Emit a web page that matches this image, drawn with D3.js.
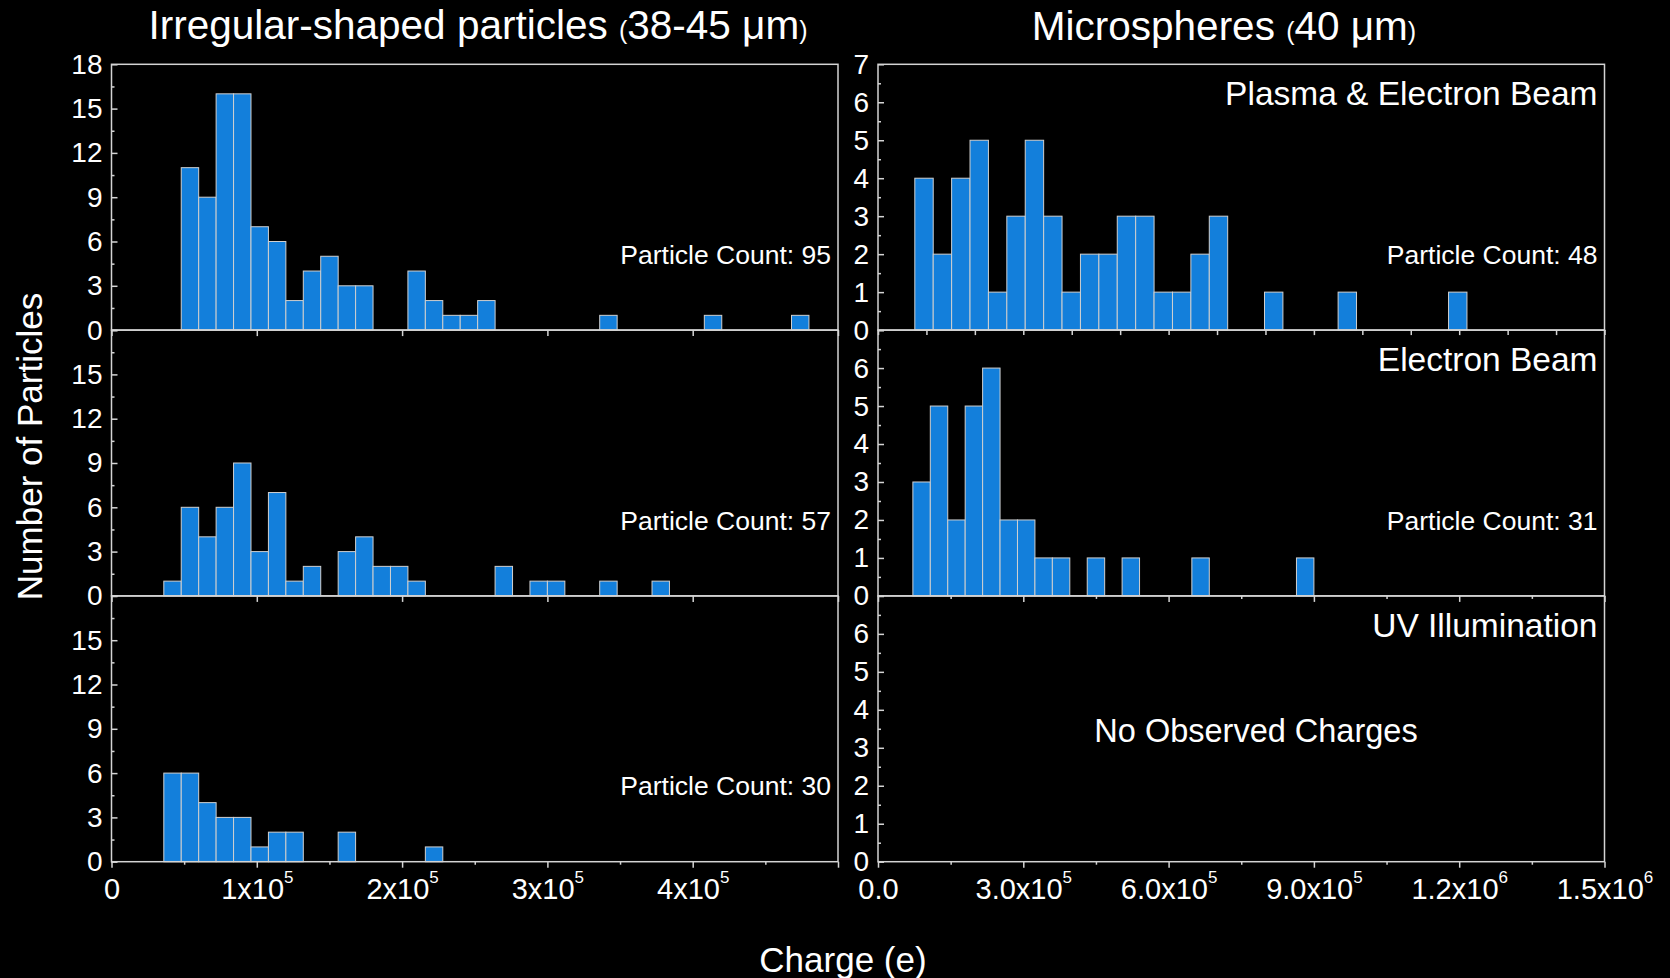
<!DOCTYPE html>
<html>
<head>
<meta charset="utf-8">
<script src="https://cdn.jsdelivr.net/npm/d3@7"></script>
<style>
body { margin: 0; background: #000; }
svg { display: block; font-family: "Liberation Sans", Arial, sans-serif; }
text { fill: #fff; }
</style>
</head>
<body>
<script>
// counts per bin, bin i covers [i*w, (i+1)*w) in units of e
var irregularBinWidth = 12000,
    sphereBinWidths = [38000, 36000, 36000];

var irregularPlasmaEBeam = [0,0,0,0, 11,9,16,16,7,6,2,4,5,3,3, 0,0, 4,2,1,1,2, 0,0,0,0,0,0, 1, 0,0,0,0,0, 1, 0,0,0,0, 1],
    irregularEBeam = [0,0,0, 1,6,4,6,9,3,7,1,2, 0, 3,4,2,2,1, 0,0,0,0, 2, 0, 1,1, 0,0, 1, 0,0, 1],
    irregularUV = [0,0,0, 6,6,4,3,3,1,2,2, 0,0, 2, 0,0,0,0, 1];

var spherePlasmaEBeam = [0,0, 4,2,4,5,1,3,5,3,1,2,2,3,3,1,1,2,3, 0,0, 1, 0,0,0, 1, 0,0,0,0,0, 1],
    sphereEBeam = [0,0, 3,5,2,5,6,2,2,1,1, 0, 1, 0, 1, 0,0,0, 1, 0,0,0,0,0, 1],
    sphereUV = [];

var rowLabels = ["Plasma & Electron Beam", "Electron Beam", "UV Illumination"],
    irregularTotals = [95, 57, 30],
    sphereTotals = [48, 31, null];

var irregularXTicks = [0, 1e5, 2e5, 3e5, 4e5, 5e5],
    irregularXMinor = [5e4, 1.5e5, 2.5e5, 3.5e5, 4.5e5],
    sphereXTicks = [0, 3e5, 6e5, 9e5, 1.2e6, 1.5e6],
    sphereXMinor = [1.5e5, 4.5e5, 7.5e5, 1.05e6, 1.35e6],
    sphereXTopTicks = d3.range(0, 1.5e6 + 1, 1e5);

var W = 1670, H = 978,
    top0 = 64.3, rowH = 265.8,
    lineColor = "#d4d4d4";

var svg = d3.select("body").append("svg")
    .attr("width", W)
    .attr("height", H);
svg.append("rect").attr("width", W).attr("height", H).attr("fill", "#000");

function sci(v, digits) {
    if (v === 0) return [digits ? "0.0" : "0"];
    var e = Math.floor(Math.log10(v) + 1e-9);
    return [(v / Math.pow(10, e)).toFixed(digits) + "x10", String(e)];
}

var columns = [
    {
        x: d3.scaleLinear().domain([0, 5e5]).range([111.5, 838]),
        yMax: 18, yStep: 3,
        rows: [irregularPlasmaEBeam, irregularEBeam, irregularUV],
        widths: [irregularBinWidth, irregularBinWidth, irregularBinWidth],
        totals: irregularTotals,
        ticks: [irregularXTicks, irregularXTicks, irregularXTicks],
        minor: [[], [], irregularXMinor],
        labels: irregularXTicks.slice(0, 5),
        digits: 0
    },
    {
        x: d3.scaleLinear().domain([0, 1.5e6]).range([878, 1604.5]),
        yMax: 7, yStep: 1,
        rows: [spherePlasmaEBeam, sphereEBeam, sphereUV],
        widths: sphereBinWidths,
        totals: sphereTotals,
        ticks: [sphereXTopTicks, sphereXTicks, sphereXTicks],
        minor: [[], sphereXMinor, sphereXMinor],
        labels: sphereXTicks,
        digits: 1,
        rowLabels: rowLabels
    }
];

columns.forEach(function(c) {
    var x = c.x, x0 = x.range()[0], x1 = x.range()[1];

    c.rows.forEach(function(counts, r) {
        var yTop = top0 + r * rowH,
            y = d3.scaleLinear().domain([0, c.yMax]).range([yTop + rowH, yTop]),
            w = c.widths[r],
            g = svg.append("g").attr("class", "panel");

        var bins = counts.map((n, i) => ({x0: i * w, x1: (i + 1) * w, n: n})).filter(d => d.n > 0);

        g.selectAll(".bar")
            .data(bins)
          .enter().append("rect")
            .attr("class", "bar")
            .attr("x", d => x(d.x0))
            .attr("width", d => x(d.x1) - x(d.x0))
            .attr("y", d => y(d.n))
            .attr("height", d => y(0) - y(d.n))
            .attr("fill", "#137fdb")
            .attr("stroke", "#d0d0d0")
            .attr("stroke-width", 1);

        // y axis, the top label is dropped below the first row (it sits on the 0 above)
        var yMajor = d3.range(0, c.yMax + 0.001, c.yStep),
            yLast = r === 0 ? c.yMax : c.yMax - c.yStep;
        var ya = g.append("g")
            .attr("transform", "translate(" + x0 + ",0)")
            .call(d3.axisLeft(y).tickValues(yMajor).tickSize(-6).tickPadding(9)
                .tickFormat(v => v <= yLast ? v : ""));
        g.append("g")
            .attr("transform", "translate(" + x0 + ",0)")
            .call(d3.axisLeft(y).tickValues(d3.range(c.yStep / 2, c.yMax, c.yStep)).tickSize(-3).tickFormat(""));

        // x ticks point down out of each panel
        var xa = g.append("g")
            .attr("transform", "translate(0," + y(0) + ")")
            .call(d3.axisBottom(x).tickValues(c.ticks[r]).tickSize(r === 0 && c.digits ? 5 : 6).tickFormat(""));
        g.append("g")
            .attr("transform", "translate(0," + y(0) + ")")
            .call(d3.axisBottom(x).tickValues(c.minor[r]).tickSize(3).tickFormat(""));

        g.selectAll(".domain").remove();
        g.selectAll(".tick line").attr("stroke", lineColor).attr("stroke-width", 1.5);
        ya.selectAll("text").attr("font-size", 28).attr("fill", "#fff");

        if (r === 2) {
            xa.selectAll(".tick").filter(v => c.labels.indexOf(v) >= 0)
                .append("text")
                .attr("y", 37)
                .attr("text-anchor", "middle")
                .attr("font-size", 29)
                .attr("fill", "#fff")
                .each(function(v) {
                    var p = sci(v, c.digits), t = d3.select(this);
                    t.append("tspan").text(p[0]);
                    if (p[1]) t.append("tspan").attr("dy", -16).attr("font-size", 17).text(p[1]);
                });
        }

        g.append("rect")
            .attr("x", x0).attr("y", yTop)
            .attr("width", x1 - x0).attr("height", rowH)
            .attr("fill", "none")
            .attr("stroke", lineColor)
            .attr("stroke-width", 1.5);

        if (c.totals[r] != null) {
            g.append("text")
                .attr("x", x1 - 7).attr("y", yTop + 199.5)
                .attr("text-anchor", "end")
                .attr("font-size", 26.5)
                .text("Particle Count: " + c.totals[r]);
        }
        if (c.rowLabels) {
            g.append("text")
                .attr("x", x1 - 7).attr("y", yTop + 41)
                .attr("text-anchor", "end")
                .attr("font-size", 33.5)
                .text(c.rowLabels[r]);
        }
        if (!counts.length) {
            g.append("text")
                .attr("x", 1256).attr("y", yTop + 146)
                .attr("text-anchor", "middle")
                .attr("font-size", 32.5)
                .text("No Observed Charges");
        }
    });
});

// column titles, brackets set smaller like the original
function title(x, y, parts) {
    var t = svg.append("text")
        .attr("x", x).attr("y", y)
        .attr("text-anchor", "middle")
        .attr("font-size", 40.5);
    parts.forEach(function(p) {
        t.append("tspan").attr("font-size", p[1] ? 25 : null).text(p[0]);
    });
}
title(478, 38.5, [["Irregular-shaped particles "], ["(", 1], ["38-45 \u03bcm"], [")", 1]]);
title(1224, 39.5, [["Microspheres "], ["(", 1], ["40 \u03bcm"], [")", 1]]);

svg.append("text")
    .attr("transform", "translate(41.7,446.5) rotate(-90)")
    .attr("text-anchor", "middle")
    .attr("font-size", 35)
    .text("Number of Particles");

svg.append("text")
    .attr("x", 843).attr("y", 971.7)
    .attr("text-anchor", "middle")
    .attr("font-size", 35)
    .text("Charge (e)");
</script>
</body>
</html>
